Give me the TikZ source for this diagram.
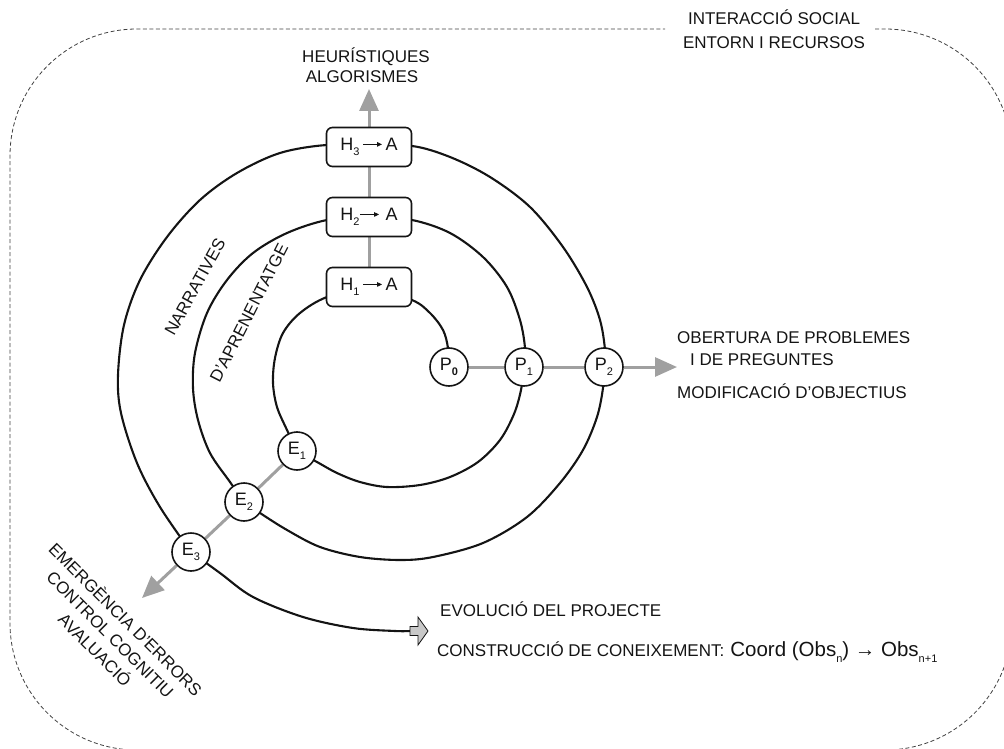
\documentclass[tikz,border=0pt]{standalone}
\usepackage{fontspec}
\setmainfont{Liberation Sans}
\usetikzlibrary{arrows.meta}
\pgfdeclarelayer{back}
\pgfsetlayers{back,main}
\definecolor{arrowgray}{RGB}{160,160,160}
\definecolor{ink}{RGB}{20,20,20}
\definecolor{tipfill}{RGB}{200,200,200}
% lowered subscript, as in the labels of the stages
\newcommand\lowsub[1]{\raisebox{-0.3em}{\fontsize{11}{11}\selectfont #1}}
% thin arrow with a small solid head, used inside the hypothesis boxes
\newcommand\harrow{\raisebox{3.8pt}{\tikz[x=1pt,y=1pt]
  \draw[draw=ink, line width=0.9pt, sharp corners, -{Triangle[length=5pt,width=4.5pt]}] (0,0) -- (19,0);}}
\begin{document}
\begin{tikzpicture}[x=1pt,y=-1pt,
  txt/.style={font=\fontsize{17}{21}\selectfont, inner sep=0pt, text=ink},
  hbox/.style={draw=ink, line width=1.6pt, rounded corners=6pt, fill=white,
    minimum width=85pt, minimum height=39pt, inner sep=0pt,
    font=\fontsize{18}{20}\selectfont, text=ink},
  stage/.style={circle, draw=ink, line width=1.6pt, fill=white,
    minimum size=38pt, inner sep=0pt, font=\fontsize{18}{20}\selectfont, text=ink},
  spiral/.style={draw=ink, line width=2.1pt},
  flow/.style={draw=arrowgray, line width=3pt},
  flowtip/.style={flow, -{Triangle[length=22pt,width=19pt]}},
  frame/.style={draw=black!75, line width=0.8pt, dash pattern=on 4pt off 2.5pt,
    rounded corners=127pt},
]
\useasboundingbox (0,0) rectangle (1004,749);

% dashed surrounding frame, open where the heading sits
\draw[frame] (875,29) -- (1012,29) -- (1012,750) -- (10,750) -- (10,29) -- (665,29);

% headings and side labels
\node[txt, anchor=base] (social1) at (774,25) {INTERACCIÓ SOCIAL};
\node[txt, anchor=base] (social2) at (774,49) {ENTORN I RECURSOS};
\node[txt, anchor=base] (heur1) at (366,63) {HEURÍSTIQUES};
\node[txt, anchor=base] (heur2) at (362,83) {ALGORISMES};
\node[txt, anchor=base west] (ober1) at (677,343) {OBERTURA DE PROBLEMES};
\node[txt, anchor=base west] (ober2) at (690,365) {I DE PREGUNTES};
\node[txt, anchor=base west] (modif) at (677,398) {MODIFICACIÓ D’OBJECTIUS};
\node[txt, anchor=base west] (evo) at (440,616) {EVOLUCIÓ DEL PROJECTE};
\node[txt, anchor=base west] (constr) at (437,656)
  {CONSTRUCCIÓ DE CONEIXEMENT:\hspace{6pt}{\fontsize{20.5}{20}\selectfont Coord (Obs\lowsub{n}) → Obs\lowsub{n+1}}};
\node[txt, rotate=61] (narr) at (195,287) {NARRATIVES};
\node[txt, rotate=63] (daprn) at (249,313) {D’APRENENTATGE};
\node[txt, rotate=-45, align=center, font=\fontsize{17}{21.6}\selectfont]
  (emerg) at (111,634) {EMERGÈNCIA D’ERRORS\\CONTROL COGNITIU\\AVALUACIÓ};

% hypothesis boxes
\node[hbox] (H1) at (369,287) {H\lowsub{1}\,\harrow\,A};
\node[hbox] (H2) at (369,217) {H\lowsub{2}\harrow\,\,A};
\node[hbox] (H3) at (369,147) {H\lowsub{3}\,\harrow\,A};

% problem and error stages
\node[stage] (P0) at (449,367) {P\lowsub{\textbf{0}}};
\node[stage] (P1) at (524,367) {P\lowsub{1}};
\node[stage] (P2) at (604,367) {P\lowsub{2}};
\node[stage] (E1) at (297,451) {E\lowsub{1}};
\node[stage] (E2) at (244,502) {E\lowsub{2}};
\node[stage] (E3) at (191,552) {E\lowsub{3}};

\coordinate (htip) at (369,89);
\coordinate (ptip) at (677,367);
\coordinate (etip) at (142,598);
\coordinate (evotail) at (410,631);

% hollow arrow at the end of the spiral
\draw[ink, line width=0.8pt, fill=tipfill]
  (410,626.5) -- (418,626.5) -- (418,617) -- (428,631) -- (418,645) -- (418,635.5) -- (410,635.5) -- cycle;

\begin{pgfonlayer}{back}
  % grey axes
  \draw[flow] (P0) -- (P1);
  \draw[flow] (P1) -- (P2);
  \draw[flowtip] (P2) -- (ptip);
  \draw[flow] (H1) -- (H2);
  \draw[flow] (H2) -- (H3);
  \draw[flowtip] (H3) -- (htip);
  \draw[flow] (E1) -- (E2);
  \draw[flow] (E2) -- (E3);
  \draw[flowtip] (E3) -- (etip);

  % the spiral, turn by turn
  \draw[spiral] plot[smooth, tension=0.55] coordinates
    {(P0) (448,348) (443,330) (430,313) (412,300) (H1)};
  \draw[spiral] plot[smooth, tension=0.55] coordinates
    {(H1) (327,297) (300,313) (283,333) (275,358) (273,383) (277,407) (287,430) (E1)};
  \draw[spiral] plot[smooth, tension=0.55] coordinates
    {(E1) (317,462) (337,473) (360,482) (387,487) (420,485) (450,477) (478,462) (500,440) (514,414) (521,390) (P1)};
  \draw[spiral] plot[smooth, tension=0.55] coordinates
    {(P1) (525,348) (520,320) (507,287) (483,257) (450,233) (412,220) (H2)};
  \draw[spiral] plot[smooth, tension=0.55] coordinates
    {(H2) (327,220) (287,233) (253,253) (227,280) (207,313) (195,353) (193,388) (198,420) (210,453) (230,482) (E2)};
  \draw[spiral] plot[smooth, tension=0.55] coordinates
    {(E2) (260,513) (287,530) (320,547) (360,557) (400,560) (433,557) (483,543) (527,517) (560,483) (583,450) (597,417) (603,388) (P2)};
  \draw[spiral] plot[smooth, tension=0.55] coordinates
    {(P2) (605,350) (600,320) (587,287) (563,247) (530,207) (490,177) (450,157) (412,146) (H3)};
  \draw[spiral] plot[smooth, tension=0.55] coordinates
    {(H3) (327,145) (280,153) (237,173) (200,200) (167,237) (140,280) (124,325) (118,375) (121,413) (137,463) (160,507) (E3)};
  \draw[spiral] plot[smooth, tension=0.55] coordinates
    {(E3) (220,573) (253,597) (303,617) (353,628) (395,631) (evotail)};
\end{pgfonlayer}
\end{tikzpicture}
\end{document}
